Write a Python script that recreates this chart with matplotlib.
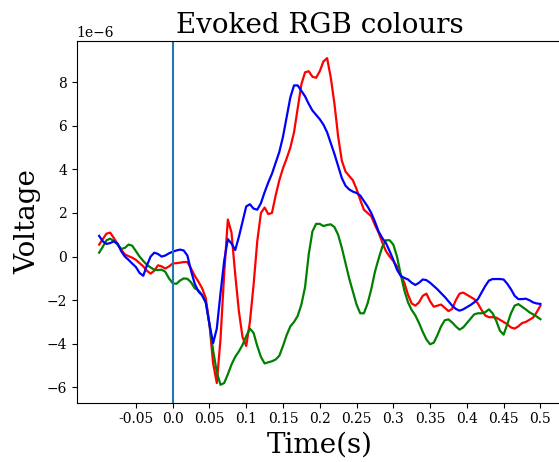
import numpy as np
import matplotlib
matplotlib.use("Agg")
import matplotlib.pyplot as plt

# time axis in seconds (5 ms steps from -0.1 to 0.5)
times = np.round(np.linspace(-0.1, 0.5, 121), 3)

# evoked responses in microvolts (scaled by 1e-6 on plotting)
red_uv = [
    0.55, 0.80, 1.05, 1.10, 0.85, 0.58, 0.32, 0.10, 0.02, -0.05,
    -0.15, -0.30, -0.45, -0.65, -0.78, -0.65, -0.40, -0.45, -0.55, -0.45,
    -0.32, -0.30, -0.28, -0.25, -0.25, -0.55, -0.88, -1.15, -1.45, -1.90,
    -3.10, -4.90, -5.80, -3.80, -0.80, 1.70, 1.10, -0.80, -2.50, -3.70,
    -4.10, -3.00, -1.30, 0.70, 2.00, 2.25, 1.95, 2.00, 2.80, 3.50,
    4.05, 4.50, 5.00, 5.70, 6.80, 7.90, 8.45, 8.50, 8.25, 8.20,
    8.50, 8.95, 9.10, 8.20, 7.00, 5.50, 4.40, 3.90, 3.70, 3.50,
    3.10, 2.60, 2.15, 2.00, 1.85, 1.45, 1.10, 0.65, 0.25, 0.00,
    -0.20, -0.45, -0.85, -1.20, -1.75, -2.15, -2.25, -2.10, -1.80, -1.70,
    -2.05, -2.30, -2.25, -2.20, -2.35, -2.50, -2.40, -2.00, -1.70, -1.65,
    -1.75, -1.85, -1.95, -2.15, -2.45, -2.70, -2.78, -2.78, -2.80, -2.90,
    -3.00, -3.10, -3.25, -3.30, -3.20, -3.05, -3.00, -2.90, -2.80, -2.55,
    -2.25,
]
green_uv = [
    0.18, 0.45, 0.75, 0.82, 0.72, 0.55, 0.35, 0.40, 0.55, 0.50,
    0.25, 0.00, -0.20, -0.38, -0.50, -0.60, -0.62, -0.60, -0.70, -1.00,
    -1.22, -1.25, -1.10, -1.00, -1.02, -1.18, -1.45, -1.55, -1.75, -2.10,
    -3.10, -4.30, -5.30, -5.88, -5.80, -5.40, -4.95, -4.60, -4.35, -4.05,
    -3.65, -3.30, -3.50, -4.10, -4.60, -4.90, -4.85, -4.80, -4.72, -4.55,
    -4.10, -3.60, -3.20, -3.00, -2.72, -2.20, -1.40, 0.10, 1.15, 1.50,
    1.50, 1.40, 1.45, 1.48, 1.35, 1.00, 0.40, -0.30, -1.00, -1.60,
    -2.20, -2.60, -2.60, -2.15, -1.50, -0.70, -0.10, 0.45, 0.75, 0.75,
    0.55, 0.00, -0.80, -1.55, -2.10, -2.45, -2.70, -3.05, -3.45, -3.80,
    -4.02, -3.95, -3.60, -3.20, -2.92, -2.88, -3.02, -3.20, -3.35, -3.25,
    -3.05, -2.85, -2.65, -2.60, -2.60, -2.55, -2.42, -2.60, -2.95, -3.40,
    -3.58, -3.10, -2.60, -2.25, -2.18, -2.30, -2.42, -2.55, -2.65, -2.75,
    -2.87,
]
blue_uv = [
    0.95, 0.70, 0.58, 0.62, 0.70, 0.60, 0.25, 0.00, -0.15, -0.32,
    -0.48, -0.75, -0.88, -0.40, 0.00, 0.18, 0.12, 0.00, 0.05, 0.15,
    0.22, 0.28, 0.32, 0.28, 0.05, -0.65, -1.25, -1.60, -1.78, -2.10,
    -3.10, -3.97, -3.30, -1.70, -0.20, 0.80, 0.60, 0.30, 0.90, 1.60,
    2.30, 2.40, 2.20, 2.15, 2.45, 2.95, 3.40, 3.80, 4.30, 4.80,
    5.50, 6.40, 7.30, 7.85, 7.85, 7.60, 7.35, 7.00, 6.70, 6.50,
    6.30, 6.05, 5.70, 5.20, 4.70, 4.15, 3.60, 3.25, 3.08, 2.98,
    2.92, 2.80, 2.55, 2.30, 2.00, 1.60, 1.15, 0.85, 0.62, 0.25,
    -0.15, -0.60, -0.88, -0.98, -1.05, -1.20, -1.30, -1.20, -1.05, -1.08,
    -1.20, -1.35, -1.50, -1.68, -1.85, -2.05, -2.25, -2.40, -2.48, -2.42,
    -2.32, -2.22, -2.10, -1.95, -1.65, -1.35, -1.10, -1.03, -1.03, -1.03,
    -1.05, -1.25, -1.50, -1.80, -1.95, -1.95, -1.93, -2.00, -2.10, -2.15,
    -2.17,
]
assert len(red_uv) == len(times) == len(green_uv) == len(blue_uv)

xtick_vals = [-0.05, 0.0, 0.05, 0.1, 0.15, 0.2, 0.25, 0.3, 0.35, 0.4, 0.45, 0.5]
xtick_labels = ["-0.05", "0.0", "0.05", "0.1", "0.15", "0.2", "0.25", "0.3",
                "0.35", "0.4", "0.45", "0.5"]

plt.rcParams["font.family"] = "DejaVu Serif"

fig = plt.figure(figsize=(5.59, 4.62), dpi=100)
ax = fig.add_axes([0.1372, 0.1284, 0.869, 0.783])

scale = 1e-6
ax.plot(times, np.array(red_uv) * scale, color="red", lw=1.6)
ax.plot(times, np.array(green_uv) * scale, color="green", lw=1.6)
ax.plot(times, np.array(blue_uv) * scale, color="blue", lw=1.6)
ax.axvline(0.0, color="C0", lw=1.5)

ax.set_xlim(-0.1305, 0.530)
ax.set_ylim(-6.70e-6, 9.89e-6)
ax.set_xticks(xtick_vals)
ax.set_xticklabels(xtick_labels)
ax.set_yticks(np.arange(-6, 9, 2) * 1e-6)

ax.set_title("Evoked RGB colours", fontsize=20)
ax.set_xlabel("Time(s)", fontsize=20)
ax.set_ylabel("Voltage", fontsize=20)

fig.savefig("out.png", dpi=100)
